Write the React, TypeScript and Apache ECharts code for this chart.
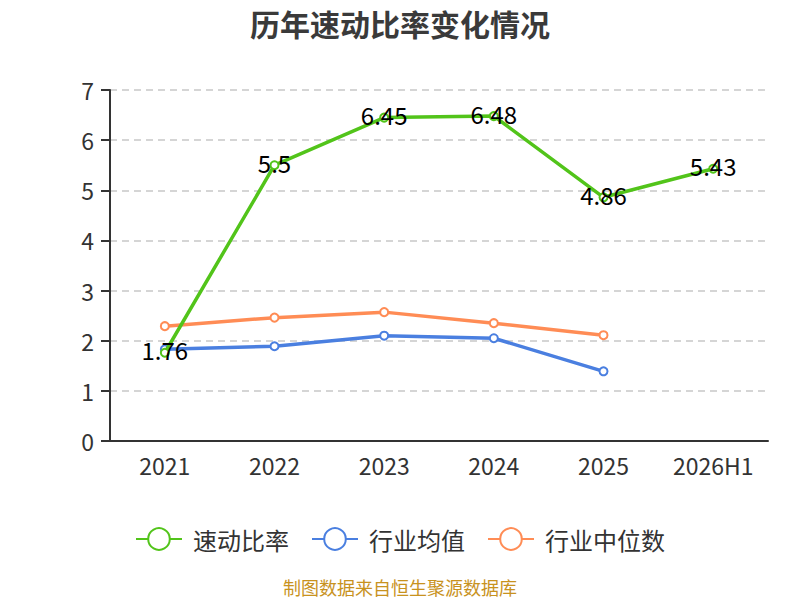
import React, { useEffect, useRef } from "react";
import * as echarts from "echarts";

const categories = ["2021", "2022", "2023", "2024", "2025", "2026H1"];
const quickRatio = [1.76, 5.5, 6.45, 6.48, 4.86, 5.43];
const industryAvg = [1.83, 1.89, 2.1, 2.05, 1.39, null];
const industryMedian = [2.29, 2.46, 2.57, 2.35, 2.11, null];
const seriesNames = ["速动比率", "行业均值", "行业中位数"];
const colors = ["#52c41a", "#4a7fe0", "#ff8c55"];

const FONT = "'Noto Sans CJK SC', 'Noto Sans', sans-serif";

export default function App() {
  const ref = useRef<HTMLDivElement>(null);
  useEffect(() => {
    document.body.style.margin = "0";
    if (!ref.current) return;
    const chart = echarts.init(ref.current, null, { renderer: "svg" });
    const mk = (name: string, data: (number | null)[], color: string, label: boolean) => ({
      name,
      type: "line",
      data,
      symbol: "emptyCircle",
      symbolSize: 8,
      lineStyle: { width: 3.5, color },
      itemStyle: { color },
      label: label
        ? {
            show: true,
            position: "inside",
            offset: [0, -3],
            color: "#000",
            fontSize: 24,
            fontFamily: FONT,
          }
        : { show: false },
      z: label ? 3 : 2,
    });
    chart.setOption({
      animation: false,
      textStyle: { fontFamily: FONT },
      title: {
        text: "历年速动比率变化情况",
        left: "center",
        top: 3,
        textStyle: { fontSize: 30, fontWeight: "bold", color: "#3a3a3a", fontFamily: FONT },
      },
      legend: {
        bottom: 44,
        left: "center",
        itemWidth: 46,
        itemHeight: 27,
        itemGap: 22,
        textStyle: { fontSize: 24, color: "#333", fontFamily: FONT, padding: [0, 0, 0, 6] },
        data: seriesNames,
      },
      grid: { left: 110, right: 32, top: 90, bottom: 159 },
      xAxis: {
        type: "category",
        data: categories,
        axisLine: { lineStyle: { color: "#333", width: 2 } },
        axisTick: { length: 8, lineStyle: { color: "#333", width: 2 } },
        axisLabel: { fontSize: 23, color: "#333", margin: 12, fontFamily: FONT },
      },
      yAxis: {
        type: "value",
        min: 0,
        max: 7,
        interval: 1,
        axisLine: { show: true, lineStyle: { color: "#333", width: 2 } },
        axisTick: { show: true, length: 9, lineStyle: { color: "#333", width: 2 } },
        axisLabel: { fontSize: 23, color: "#333", margin: 16, fontFamily: FONT },
        splitLine: { lineStyle: { type: [7, 5], color: "#c8c8c8", width: 1.5 } },
      },
      graphic: [
        {
          type: "text",
          left: "center",
          top: 578,
          style: {
            text: "制图数据来自恒生聚源数据库",
            fontSize: 18,
            fill: "#c8921e",
            fontFamily: FONT,
          },
        },
      ],
      series: [
        mk(seriesNames[0], quickRatio, colors[0], true),
        mk(seriesNames[1], industryAvg, colors[1], false),
        mk(seriesNames[2], industryMedian, colors[2], false),
      ],
    });
    return () => chart.dispose();
  }, []);
  return <div ref={ref} style={{ width: 800, height: 600 }} />;
}
